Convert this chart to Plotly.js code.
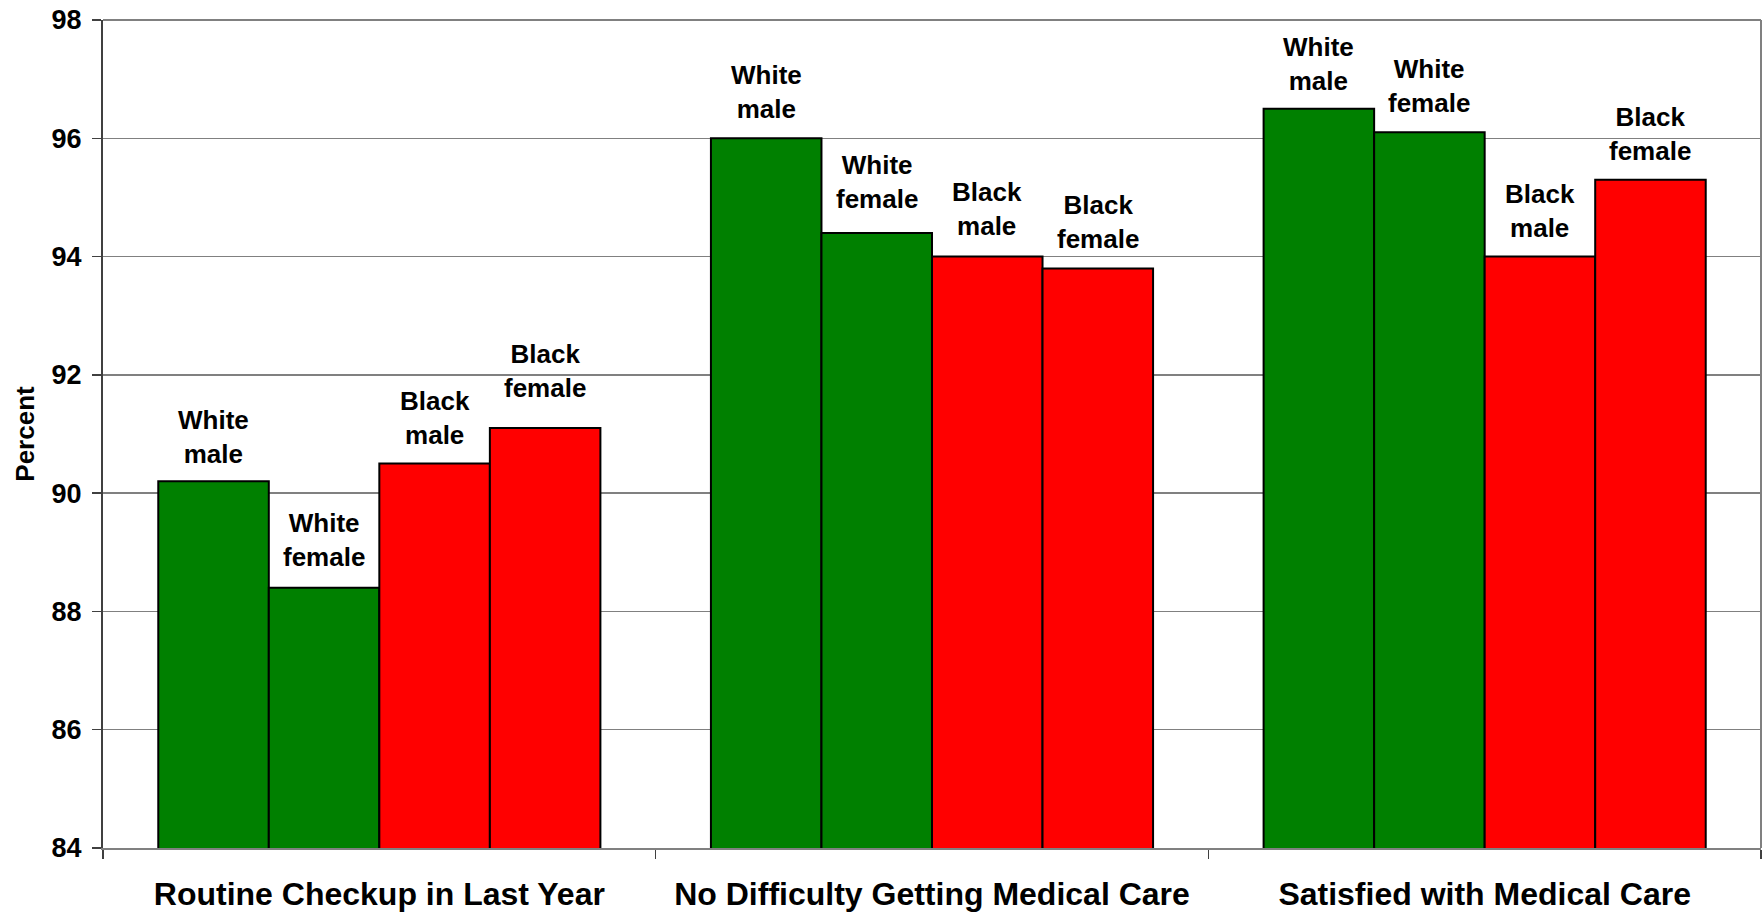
<!DOCTYPE html>
<html>
<head>
<meta charset="utf-8">
<script src="https://cdn.plot.ly/plotly-3.0.1.min.js"></script>
<style>
  html, body { margin: 0; padding: 0; background: #ffffff; }
  #chart { width: 1762px; height: 914px; }
</style>
</head>
<body>
<div id="chart"></div>
<script>
// ---- data ----
const categories = ['Routine Checkup in Last Year', 'No Difficulty Getting Medical Care', 'Satisfied with Medical Care'];
const whiteMale   = [90.2, 96.0, 96.5];
const whiteFemale = [88.4, 94.4, 96.1];
const blackMale   = [90.5, 94.0, 94.0];
const blackFemale = [91.1, 93.8, 95.3];
const seriesNames  = ['White male', 'White female', 'Black male', 'Black female'];
const seriesLabels = ['White<br>male', 'White<br>female', 'Black<br>male', 'Black<br>female'];
const yTicks = [84, 86, 88, 90, 92, 94, 96, 98];

// ---- style ----
const FONT = '"Liberation Sans", Arial, sans-serif';
const GREEN = '#008000';
const RED = '#FF0000';
const seriesValues = [whiteMale, whiteFemale, blackMale, blackFemale];
const seriesColors = [GREEN, GREEN, RED, RED];
const BARGAP = 0.2;
// extra vertical pixel nudges of individual data labels (as placed in the original)
const labelNudgePx = [
  [-2, 0, -1],
  [2, 5, 0],
  [0, 2, 0],
  [11, 0, 0]
];

const traces = seriesValues.map((vals, i) => ({
  type: 'bar',
  name: seriesNames[i],
  x: categories,
  y: vals,
  marker: { color: seriesColors[i], line: { color: '#000000', width: 2 } },
  hoverinfo: 'x+y+name'
}));

// label positions: centre of each bar in category units
const nSeries = seriesValues.length;
const barW = (1 - BARGAP) / nSeries;
const annotations = [];
seriesValues.forEach((vals, s) => {
  const off = -(1 - BARGAP) / 2 + barW * (s + 0.5);
  vals.forEach((v, c) => {
    annotations.push({
      xref: 'x', yref: 'y',
      x: c + off, y: v,
      text: '<b>' + seriesLabels[s] + '</b>',
      showarrow: false,
      xanchor: 'center', yanchor: 'bottom',
      yshift: 12 + labelNudgePx[s][c],
      font: { family: FONT, size: 26, color: '#000000' }
    });
  });
});

const layout = {
  width: 1762, height: 914,
  margin: { l: 103, r: 1, t: 20, b: 66, pad: 0 },
  paper_bgcolor: '#ffffff',
  plot_bgcolor: '#ffffff',
  showlegend: false,
  barmode: 'group',
  bargap: BARGAP,
  bargroupgap: 0,
  font: { family: FONT, color: '#000000' },
  xaxis: {
    type: 'category',
    tickson: 'boundaries',
    ticks: 'outside', ticklen: 9, tickwidth: 1.5, tickcolor: '#404040',
    showline: true, linecolor: '#808080', linewidth: 2,
    showgrid: false,
    tickfont: { family: FONT, size: 32, color: '#000000', weight: 'bold' },
    ticklabelstandoff: 17,
    automargin: false
  },
  yaxis: {
    range: [84, 98],
    tickvals: yTicks,
    ticktext: yTicks.map(String),
    ticks: 'outside', ticklen: 9, tickwidth: 1.5, tickcolor: '#404040',
    showline: true, linecolor: '#404040', linewidth: 2,
    showgrid: true, gridcolor: '#808080', gridwidth: 1.3,
    zeroline: false,
    tickfont: { family: FONT, size: 27, color: '#000000', weight: 'bold' },
    ticklabelstandoff: 5,
    title: { text: '<b>Percent</b>', font: { family: FONT, size: 26, color: '#000000' }, standoff: 9 },
    automargin: false
  },
  shapes: [
    { type: 'line', xref: 'paper', yref: 'paper', x0: 1, x1: 1, y0: 0, y1: 1,
      line: { color: '#808080', width: 2 } },
    { type: 'line', xref: 'paper', yref: 'paper', x0: 0, x1: 1, y0: 1, y1: 1,
      line: { color: '#808080', width: 2 } }
  ],
  annotations: annotations
};

Plotly.newPlot('chart', traces, layout, { displayModeBar: false, staticPlot: true });
</script>
</body>
</html>
